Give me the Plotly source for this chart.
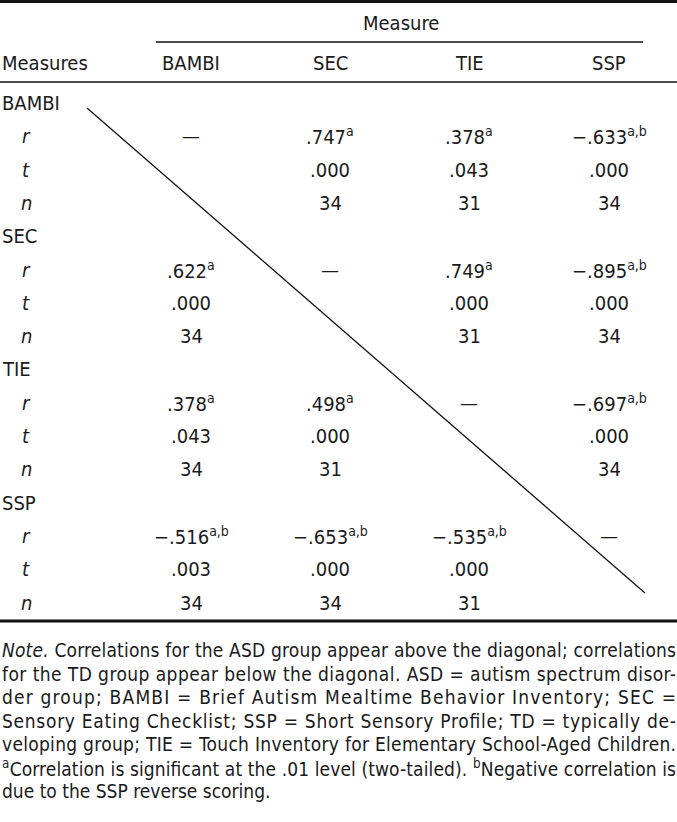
import plotly.graph_objects as go

MEASURES = ["BAMBI", "SEC", "TIE", "SSP"]
STATS = ["r", "t", "n"]

# row = measure on the left, column = measure in the header
R_VALUES = [
    [None, 0.747, 0.378, -0.633],
    [0.622, None, 0.749, -0.895],
    [0.378, 0.498, None, -0.697],
    [-0.516, -0.653, -0.535, None],
]
R_MARKS = [
    [None, "a", "a", "a,b"],
    ["a", None, "a", "a,b"],
    ["a", "a", None, "a,b"],
    ["a,b", "a,b", "a,b", None],
]
T_VALUES = [
    [None, 0.000, 0.043, 0.000],
    [0.000, None, 0.000, 0.000],
    [0.043, 0.000, None, 0.000],
    [0.003, 0.000, 0.000, None],
]
N_VALUES = [
    [None, 34, 31, 34],
    [34, None, 31, 34],
    [34, 31, None, 34],
    [34, 34, 31, None],
]

NOTE_LINES = [
    "<i>Note.</i> Correlations for the ASD group appear above the diagonal; correlations",
    "for the TD group appear below the diagonal. ASD = autism spectrum disor-",
    "der group; BAMBI = Brief Autism Mealtime Behavior Inventory; SEC =",
    "Sensory Eating Checklist; SSP = Short Sensory Profile; TD = typically de-",
    "veloping group; TIE = Touch Inventory for Elementary School-Aged Children.",
    "<sup>a</sup>Correlation is significant at the .01 level (two-tailed). <sup>b</sup>Negative correlation is",
    "due to the SSP reverse scoring.",
]

W, H = 677, 822
FONT = "DejaVu Sans Condensed, DejaVu Sans, sans-serif"
SIZE = 20
NOTE_SIZE = 19
INK = "#1a1a1a"
COL_X = [191, 330, 469, 609]
STAT_X = 26
BODY_TOP = 103
ROW_H = 33.3
NOTE_TOP = 650
NOTE_H = 23.5


def fmt_dec(v):
    s = f"{abs(v):.3f}".lstrip("0")
    return ("\u2212" if v < 0 else "") + s


def label(x, y, text, anchor="center", size=SIZE):
    return dict(x=x, y=y, text=text, showarrow=False, xanchor=anchor, yanchor="middle",
                align="left" if anchor == "left" else "center",
                font=dict(family=FONT, size=size, color=INK))


annotations = []
# notes go first so the justify script below can find them by index
for k, line in enumerate(NOTE_LINES):
    annotations.append(label(0, NOTE_TOP + NOTE_H * k, line, "left", NOTE_SIZE))

annotations.append(label(sum(COL_X[1:3]) / 2 + 1, 23, "Measure"))
annotations.append(label(0, 63, "Measures", "left"))
for j, m in enumerate(MEASURES):
    annotations.append(label(COL_X[j], 63, m))

for i, m in enumerate(MEASURES):
    base = BODY_TOP + ROW_H * 4 * i
    annotations.append(label(0, base, m, "left"))
    for k, stat in enumerate(STATS):
        y = base + ROW_H * (k + 1)
        annotations.append(label(STAT_X, y, f"<i>{stat}</i>"))
        for j in range(len(MEASURES)):
            if i == j:
                if stat == "r":
                    annotations.append(label(COL_X[j], y, "\u2014"))
                continue
            if stat == "r":
                txt = fmt_dec(R_VALUES[i][j]) + f"<sup>{R_MARKS[i][j]}</sup>"
            elif stat == "t":
                txt = fmt_dec(T_VALUES[i][j])
            else:
                txt = str(N_VALUES[i][j])
            annotations.append(label(COL_X[j], y, txt))

shapes = [
    dict(type="line", x0=0, x1=W, y0=1.5, y1=1.5, line=dict(color="#111", width=3)),
    dict(type="line", x0=156, x1=643, y0=42, y1=42, line=dict(color="#111", width=1.3)),
    dict(type="line", x0=0, x1=W, y0=82, y1=82, line=dict(color="#111", width=1.3)),
    dict(type="line", x0=0, x1=W, y0=621, y1=621, line=dict(color="#111", width=3)),
    dict(type="line", x0=87, x1=645, y0=108, y1=593, line=dict(color="#111", width=1.3)),
]

fig = go.Figure()
fig.update_layout(
    width=W, height=H,
    margin=dict(l=0, r=0, t=0, b=0),
    paper_bgcolor="white", plot_bgcolor="white",
    showlegend=False,
    xaxis=dict(range=[0, W], visible=False, fixedrange=True),
    yaxis=dict(range=[H, 0], visible=False, fixedrange=True),
    shapes=shapes,
    annotations=annotations,
)

# drop the page margin and stretch the note lines to full width (justified look)
post = """
document.body.style.margin = '0';
var gd = document.getElementById('{plot_id}');
gd.querySelectorAll('.annotation').forEach(function (a) {
  var i = +a.getAttribute('data-index');
  if (i < %d) {
    var t = a.querySelector('text.annotation-text');
    var left = t.getBoundingClientRect().left - gd.getBoundingClientRect().left;
    t.setAttribute('textLength', (%d - left).toFixed(1));
    t.setAttribute('lengthAdjust', 'spacing');
  }
});
""" % (len(NOTE_LINES) - 1, W - 1)

fig.write_html("out.html", post_script=post, config={"displayModeBar": False})
